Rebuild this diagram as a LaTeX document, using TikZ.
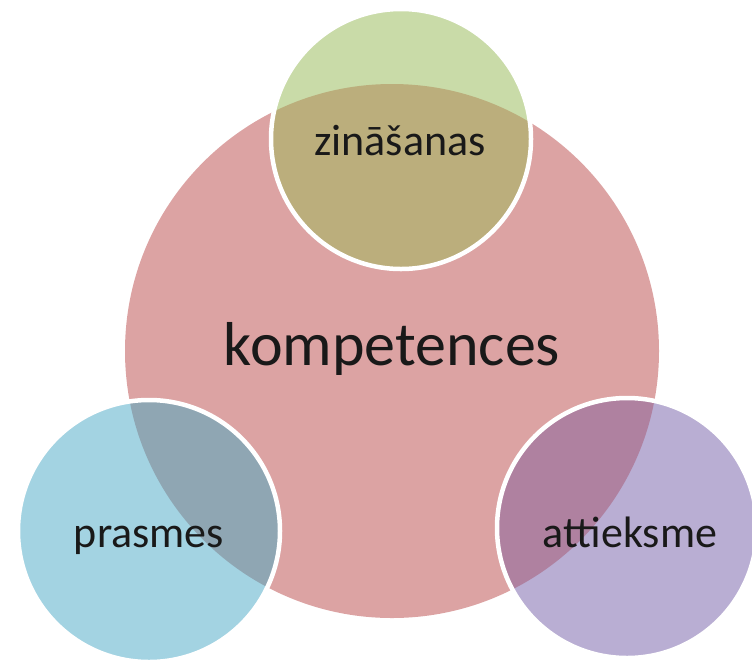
\documentclass[tikz,border=0pt]{standalone}
\usepackage{fontspec}
\setmainfont{Carlito}
\usepackage{xcolor}
\usepackage{tikz}
\definecolor{komprose}{HTML}{DCA3A3}
\definecolor{zinlight}{HTML}{C9DBA8}
\definecolor{zindark}{HTML}{BBAE7C}
\definecolor{praslight}{HTML}{A3D3E2}
\definecolor{prasdark}{HTML}{8FA6B3}
\definecolor{attlight}{HTML}{B9AED3}
\definecolor{attdark}{HTML}{AF81A0}

\begin{document}
\begin{tikzpicture}[x=1pt,y=-1pt]
\tikzstyle{biglabel}=[anchor=base,inner sep=0pt,text=black!90,font=\fontsize{62}{62}\selectfont]
\tikzstyle{label}=[anchor=base,inner sep=0pt,text=black!90,font=\fontsize{44}{44}\selectfont]
\tikzstyle{rim}=[draw=white,line width=4.5pt]
\useasboundingbox (0,0) rectangle (752,665);
\clip (0,0) rectangle (752,665);
\coordinate (komp) at (392,351);
\coordinate (zin) at (401,139);
\coordinate (pras) at (149,531);
\coordinate (att) at (627,528);
% big circle
\fill[komprose] (komp) circle (267pt);
% top
\fill[zinlight] (zin) circle (130pt);
\begin{scope}
\clip (zin) circle (130pt);
\fill[zindark] (komp) circle (267pt);
\end{scope}
\draw[rim] (zin) circle (130pt);
% left
\fill[praslight] (pras) circle (131pt);
\begin{scope}
\clip (pras) circle (131pt);
\fill[prasdark] (komp) circle (267pt);
\end{scope}
\draw[rim] (pras) circle (131pt);
% right
\fill[attlight] (att) circle (130pt);
\begin{scope}
\clip (att) circle (130pt);
\fill[attdark] (komp) circle (267pt);
\end{scope}
\draw[rim] (att) circle (130pt);
% texts
\node[biglabel] (kompt) at (392,365) {kompetences};
\node[label] (zint) at (400,155) {zināšanas};
\node[label] (prast) at (149,547) {prasmes};
\node[label] (attt) at (630,547) {attieksme};
\end{tikzpicture}
\end{document}
